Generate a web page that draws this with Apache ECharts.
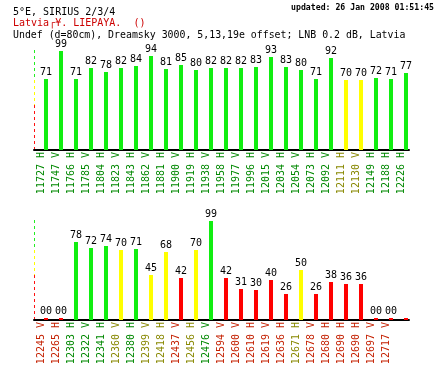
<!DOCTYPE html>
<html>
<head>
<meta charset="utf-8">
<script src="https://cdn.jsdelivr.net/npm/echarts@6/dist/echarts.min.js"></script>
<style>
html,body{margin:0;padding:0;background:#fff;}
#chart{width:440px;height:370px;}
</style>
</head>
<body>
<div id="chart"></div>
<script>
// ---- data ----
const TITLE_1 = '5°E, SIRIUS 2/3/4';
const TITLE_2 = 'Latvia┌¥. LIEPAYA.  ()';
const TITLE_3 = 'Undef (d=80cm), Dreamsky 3000, 5,13,19e offset; LNB 0.2 dB, Latvia';
const UPDATED = 'updated: 26 Jan 2008 01:51:45';

const topFreq = ['11727','11747','11766','11785','11804','11823','11843','11862','11881','11900','11919','11938','11958','11977','11996','12015','12034','12054','12073','12092','12111','12130','12149','12188','12226'];
const topPol  = ['H','V','H','V','H','V','H','V','H','V','H','V','H','V','H','V','H','V','H','V','H','V','H','H','H'];
const topVal  = [71,99,71,82,78,82,84,94,81,85,80,82,82,82,83,93,83,80,71,92,70,70,72,71,77];

const botFreq = ['12245','12265','12303','12322','12341','12360','12380','12399','12418','12437','12456','12476','12594','12600','12610','12619','12636','12671','12678','12680','12690','12690','12697','12717',''];
const botPol  = ['V','H','H','V','H','V','H','V','H','V','H','V','V','V','H','V','H','H','V','H','H','H','V','V',''];
const botVal  = [0,0,78,72,74,70,71,45,68,42,70,99,42,31,30,40,26,50,26,38,36,36,0,0,0];

const GOOD_MIN = 71;   // green from here
const FAIR_MIN = 45;   // yellow from here, red below
const SCALE_MAX = 100;

// ---- styles ----
const BAR_COLORS = ['#11ee11', '#ffff00', '#ff0000'];
const LABEL_COLORS = ['#008800', '#888800', '#c42000'];
const MONO = '"DejaVu Sans Mono", "Liberation Mono", monospace';

function cls(v) { return v >= GOOD_MIN ? 0 : (v >= FAIR_MIN ? 1 : 2); }

function axisData(freq, pol, val) {
  return freq.map((f, i) => ({
    value: f ? (f + ' ' + pol[i]) : '',
    textStyle: { color: LABEL_COLORS[cls(val[i])] }
  }));
}

function barData(freq, val) {
  return val.map((v, i) => ({
    value: v,
    itemStyle: { color: BAR_COLORS[cls(v)] },
    label: { show: !!freq[i] }
  }));
}

const grids = [
  { left: 34, width: 375, top: 50, height: 100 },
  { left: 34, width: 375, top: 220, height: 100 }
];

function xAxisFor(idx, freq, pol, val) {
  return {
    type: 'category', gridIndex: idx,
    data: axisData(freq, pol, val),
    axisLine: { lineStyle: { color: '#000', width: 2 } },
    axisTick: { show: false },
    axisLabel: {
      interval: 0, rotate: 90, margin: 2, padding: [4, 0, 0, 0],
      fontFamily: MONO, fontSize: 10
    }
  };
}

function yAxisFor(idx) {
  return {
    type: 'value', gridIndex: idx, min: 0, max: SCALE_MAX,
    show: false, splitLine: { show: false }
  };
}

function seriesFor(idx, freq, val) {
  return [
    { // empty placeholder that shifts the real bars right within their band
      type: 'bar', xAxisIndex: idx, yAxisIndex: idx,
      data: val.map(() => '-'), barWidth: 4, barGap: '125%', silent: true
    },
    {
      type: 'bar', xAxisIndex: idx, yAxisIndex: idx,
      data: barData(freq, val), barWidth: 4, barGap: '125%', barMinHeight: 2,
      label: {
        show: true, position: 'top', distance: 2,
        fontFamily: MONO, fontSize: 10, color: '#000',
        formatter: p => (p.value < 10 ? '0' : '') + p.value
      }
    }
  ];
}

const chart = echarts.init(document.getElementById('chart'), null, { renderer: 'canvas' });

const texts = [
  { type: 'text', x: 13, y: 12, style: { text: TITLE_1, fill: '#000', font: '10px ' + MONO, verticalAlign: 'middle' } },
  { type: 'text', x: 13, y: 23.5, style: { text: TITLE_2, fill: '#cc0000', font: '10px ' + MONO, verticalAlign: 'middle' } },
  { type: 'text', x: 13, y: 35.5, style: { text: TITLE_3, fill: '#000', font: '9.9px ' + MONO, verticalAlign: 'middle' } },
  { type: 'text', x: 434, y: 8, style: { text: UPDATED, fill: '#000', font: 'bold 8.2px ' + MONO, align: 'right', verticalAlign: 'middle' } }
];

chart.setOption({
  animation: false,
  backgroundColor: '#fff',
  grid: grids,
  xAxis: [xAxisFor(0, topFreq, topPol, topVal), xAxisFor(1, botFreq, botPol, botVal)],
  yAxis: [yAxisFor(0), yAxisFor(1)],
  series: [].concat(seriesFor(0, topFreq, topVal), seriesFor(1, botFreq, botVal)),
  graphic: texts
});

// colored dashed scale line at the left of each panel
const bands = [[SCALE_MAX, GOOD_MIN - 1, '#22ee22'], [GOOD_MIN - 1, FAIR_MIN, '#ffff00'], [FAIR_MIN, 0, '#ff1010']];
const dashes = [];
[0, 1].forEach(gi => {
  const x = grids[gi].left + 0.5;
  bands.forEach(b => {
    const y1 = chart.convertToPixel({ yAxisIndex: gi }, b[0]);
    const y2 = chart.convertToPixel({ yAxisIndex: gi }, b[1]);
    dashes.push({
      type: 'line', shape: { x1: x, y1: y1, x2: x, y2: Math.min(y2, grids[gi].top + grids[gi].height - 1) },
      style: { stroke: b[2], lineWidth: 1, lineDash: [3, 3] }, silent: true
    });
  });
});
chart.setOption({ graphic: texts.concat(dashes) });
</script>
</body>
</html>
